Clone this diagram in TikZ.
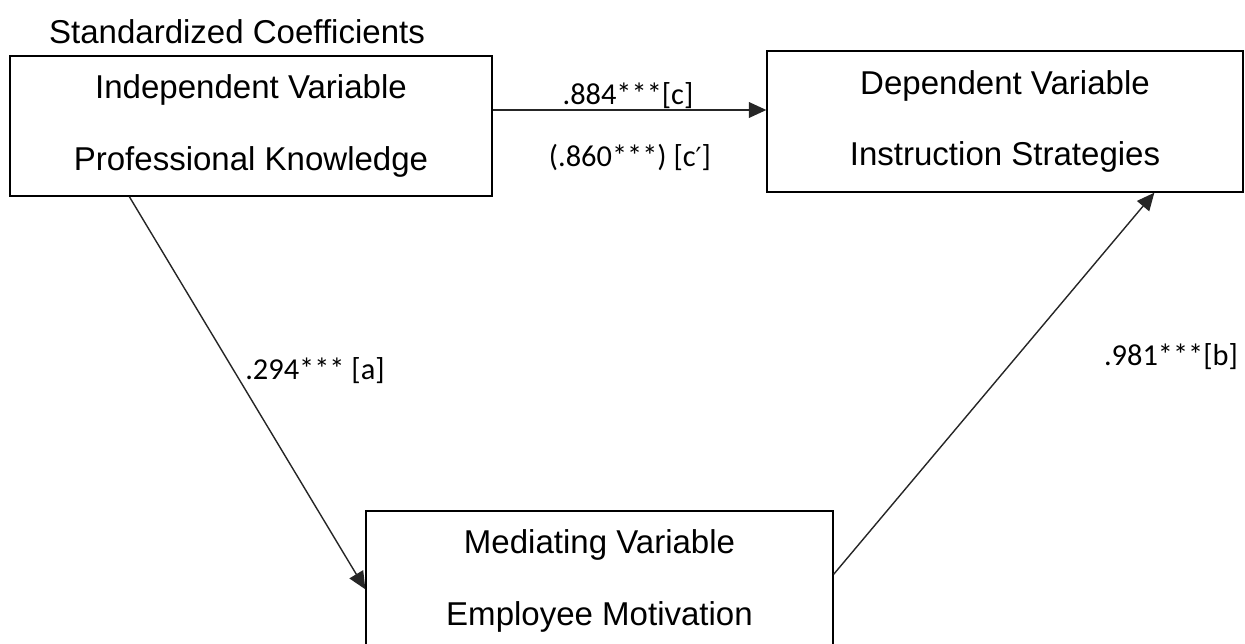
\documentclass[tikz,border=0pt]{standalone}
\usepackage{fontspec}
\setmainfont{Liberation Sans}
\newfontfamily\lblfont{Carlito}
\newfontfamily\primefont{DejaVu Sans}
\usetikzlibrary{arrows.meta,calc}

\begin{document}
\begin{tikzpicture}[x=0.02cm,y=-0.02cm,
    varbox/.style={draw,line width=0.8pt,align=center,inner sep=0pt,
      font=\fontsize{18.8}{22.5}\selectfont},
    coef/.style={font=\lblfont\fontsize{17.3}{20}\selectfont,inner sep=0pt},
    arr/.style={line width=0.8pt,draw=black!85,-{Triangle[length=10pt,width=9pt]}}]
  \useasboundingbox (0,0) rectangle (1245,643);

  \node (title) at (237,32) {\fontsize{18.8}{22.5}\selectfont Standardized Coefficients};

  \node[varbox,minimum width=9.64cm,minimum height=2.8cm] (iv) at (251,126)
    {Independent Variable\\[18pt]Professional Knowledge};
  \node[varbox,minimum width=9.52cm,minimum height=2.82cm] (dv) at (1005,121.5)
    {Dependent Variable\\[18pt]Instruction Strategies};
  \node[varbox,minimum width=9.34cm,minimum height=2.8cm] (med) at (599.5,581)
    {Mediating Variable\\[18pt]Employee Motivation};

  \coordinate (lev) at (0,110);

  \draw[arr] (iv.east |- lev) -- (dv.west |- lev);
  \draw[arr] ($(iv.south west)+(120,0)$) -- ($(med.north west)+(0,79)$);
  \draw[arr] ($(med.north east)+(0,64)$) -- ($(dv.south west)+(388,0)$);

  \node[coef] (c) at (628,96) {.884***[c]};
  \node[coef] (cp) at (630,157) {(.860***) [c{\primefont\fontsize{15}{18}\selectfont ′}]};
  \node[coef] (a) at (315,371) {.294*** [a]};
  \node[coef] (b) at (1171,357) {.981***[b]};
\end{tikzpicture}
\end{document}
